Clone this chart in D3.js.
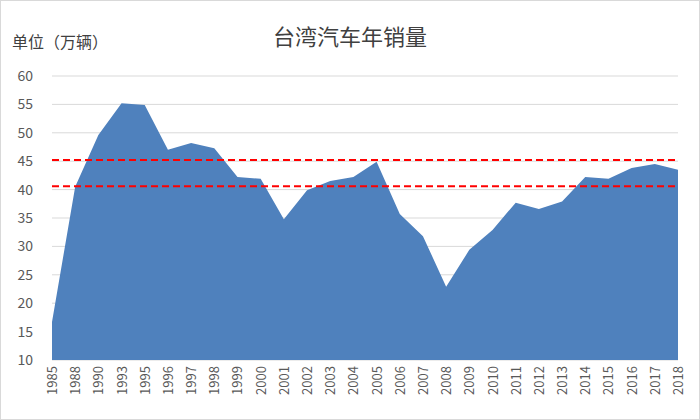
<!DOCTYPE html>
<html><head><meta charset="utf-8">
<script src="https://cdn.jsdelivr.net/npm/d3@7"></script>
<style>body{margin:0;background:#fff}svg{font-family:"Noto Sans CJK SC","Liberation Sans",sans-serif}</style>
</head><body><svg id="c" width="700" height="420"></svg>
<script>
const years=["1985","1988","1990","1993","1995","1996","1997","1998","1999","2000","2001","2002","2003","2004","2005","2006","2007","2008","2009","2010","2011","2012","2013","2014","2015","2016","2017","2018"];
const sales=[16.7,40.5,49.6,55.2,54.9,47,48.2,47.3,42.2,41.9,34.8,39.9,41.5,42.2,44.9,35.7,31.8,22.9,29.4,32.9,37.7,36.6,37.9,42.2,41.9,43.8,44.5,43.5];
const refLines=[45.2,40.6];
const yTicks=[10,15,20,25,30,35,40,45,50,55,60];

const svg=d3.select("#c");
svg.append("rect").attr("x",0.5).attr("y",0.5).attr("width",699).attr("height",419).attr("fill","#fff").attr("stroke","#d9d9d9");
const x=d3.scalePoint().domain(years).range([52,678]);
const y=d3.scaleLinear().domain([10,60]).range([360,76]);
svg.append("g").selectAll("line").data(yTicks).join("line")
 .attr("x1",52).attr("x2",678).attr("y1",d=>y(d)).attr("y2",d=>y(d)).attr("stroke","#d9d9d9");
svg.append("path").datum(sales).attr("fill","#4f81bd")
 .attr("d",d3.area().x((d,i)=>x(years[i])).y0(y(10)).y1(d=>y(d)));
svg.append("g").selectAll("line").data(refLines).join("line")
 .attr("x1",52).attr("x2",678).attr("y1",d=>y(d)).attr("y2",d=>y(d))
 .attr("stroke","#ff0000").attr("stroke-width",2).attr("stroke-dasharray","7,4");
svg.append("g").selectAll("text").data(yTicks).join("text")
 .attr("x",33).attr("y",d=>y(d)+5).attr("text-anchor","end").attr("font-size",14).attr("fill","#595959").text(d=>d);
svg.append("g").selectAll("text").data(years).join("text")
 .attr("transform",d=>`translate(${x(d)+5},366) rotate(-90)`).attr("text-anchor","end")
 .attr("font-size",13).attr("fill","#595959").text(d=>d);
svg.append("text").attr("x",350).attr("y",45).attr("text-anchor","middle").attr("font-size",22).attr("fill","#404040").text("台湾汽车年销量");
svg.append("text").attr("x",12).attr("y",48).attr("font-size",16).attr("fill","#404040").text("单位（万辆）");
</script></body></html>
